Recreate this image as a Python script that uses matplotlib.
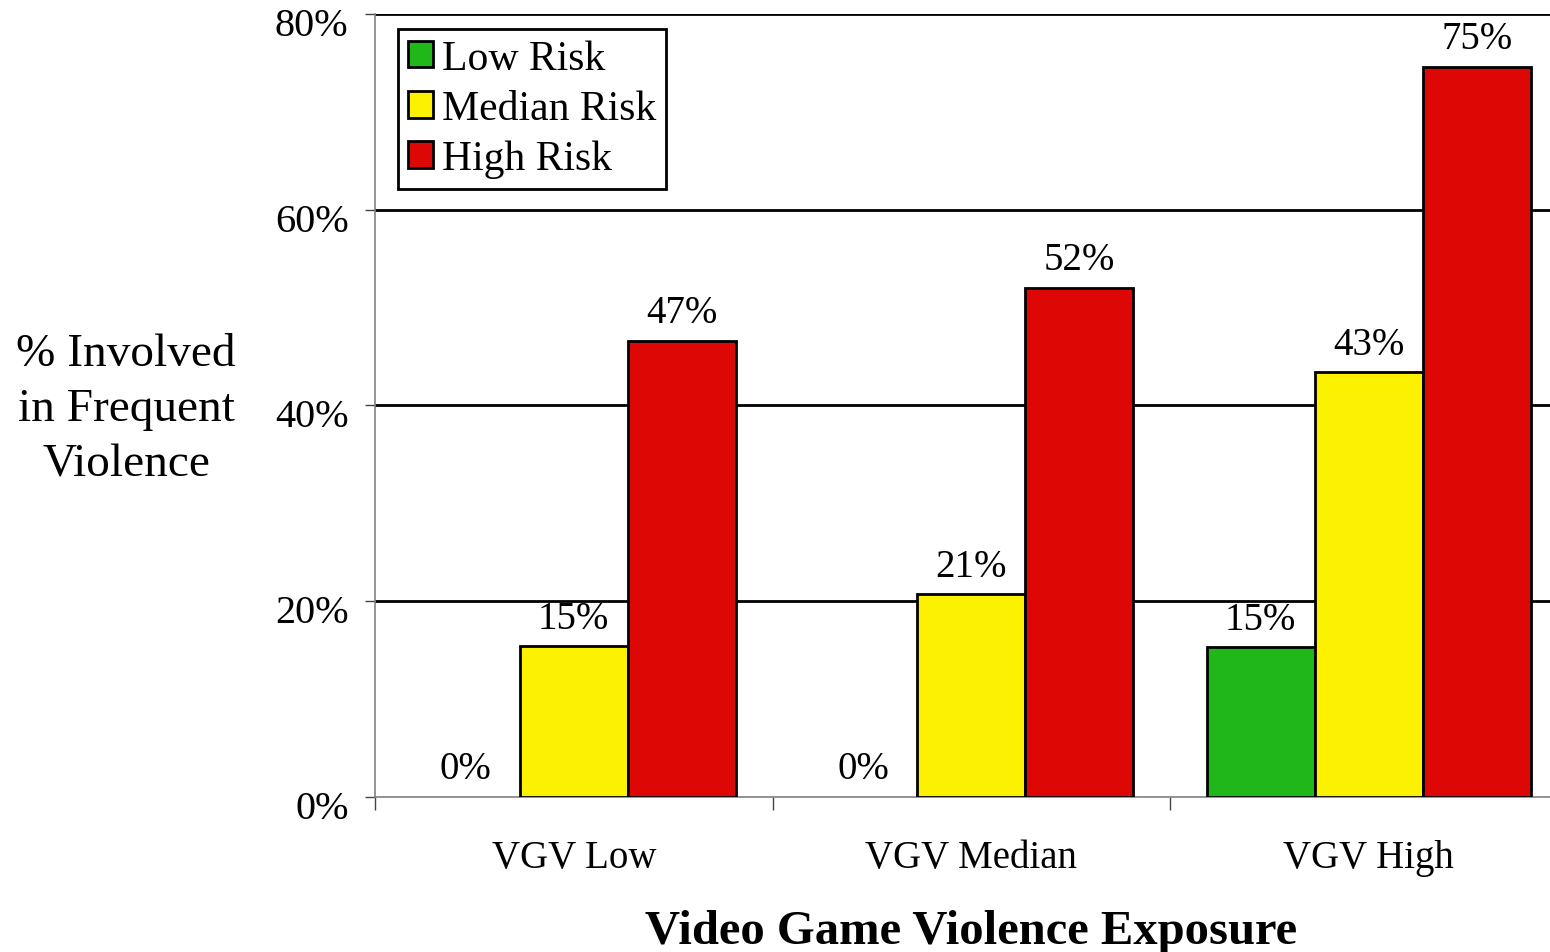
import numpy as np
import matplotlib
matplotlib.use("Agg")
import matplotlib.pyplot as plt
from matplotlib.transforms import ScaledTranslation

plt.rcParams['font.family'] = ['Liberation Serif', 'DejaVu Serif']

groups = ["VGV Low", "VGV Median", "VGV High"]
series = ["Low Risk", "Median Risk", "High Risk"]
low_risk = [0, 0, 15.3]
median_risk = [15.4, 20.7, 43.4]
high_risk = [46.6, 52.0, 74.6]
colors = ["#1fb71a", "#fcf200", "#dd0806"]

fig = plt.figure(figsize=(15.5, 9.53), dpi=100)
ax = fig.add_axes([375 / 1550, 1 - 798 / 953, 1192.5 / 1550, 783 / 953])

x = np.arange(len(groups))
w = 0.272
all_bars = []
for i, (vals, name, c) in enumerate(zip([low_risk, median_risk, high_risk], series, colors)):
    bars = ax.bar(x + (i - 1) * w, vals, w, color=c, edgecolor="black",
                  linewidth=2, label=name, zorder=3)
    ax.bar_label(bars, labels=["%d%%" % round(v) for v in vals], padding=7,
                 fontsize=28)
    all_bars.append((bars, vals))

ax.set_xlim(-0.5, 2.5)
ax.set_ylim(0, 80)
ax.set_yticks([0, 20, 40, 60, 80])
ax.set_yticklabels(["0%", "20%", "40%", "60%", "80%"])
ax.yaxis.grid(True, color="black", linewidth=2, zorder=1)
ax.get_ygridlines()[0].set_visible(False)
ax.set_axisbelow(True)

ax.set_xticks(x)
ax.set_xticklabels(groups)
ax.set_xticks([-0.5, 0.5, 1.5, 2.5], minor=True)
ax.tick_params(axis="x", which="major", length=0, pad=30, labelsize=28)
ax.tick_params(axis="x", which="minor", length=9, width=1, color="#444444", direction="out")
ax.tick_params(axis="y", length=7, width=1, color="#444444", direction="out",
               pad=12, labelsize=29)
# y labels sit a little below their ticks in the original
shift = ScaledTranslation(0, -7 / 100, fig.dpi_scale_trans)
for lab in ax.get_yticklabels():
    lab.set_transform(lab.get_transform() + shift)

for s in ["top", "right"]:
    ax.spines[s].set_visible(False)
for s in ["left", "bottom"]:
    ax.spines[s].set_color("#808080")
    ax.spines[s].set_linewidth(1.2)

ax.set_xlabel("Video Game Violence Exposure", fontsize=35, fontweight="bold",
              labelpad=24)
fig.text(126 / 1550, 1 - 410 / 953, "% Involved\nin Frequent\nViolence",
         ha="center", va="center", multialignment="center", fontsize=34,
         linespacing=1.38)

leg = ax.legend(loc="upper left", bbox_to_anchor=(23 / 1192.5, 1 - 15 / 783),
                fontsize=30, handlelength=0.6, handleheight=0.6,
                handletextpad=0.2, labelspacing=0.28, borderpad=0.25,
                borderaxespad=0, fancybox=False, framealpha=1)
leg.get_frame().set_edgecolor("black")
leg.get_frame().set_linewidth(2)

# zero-height bars leave no outline in the original (after legend is built)
for bars, vals in all_bars:
    for b, v in zip(bars, vals):
        if v == 0:
            b.set_linewidth(0)

fig.savefig("out.png", dpi=100)
